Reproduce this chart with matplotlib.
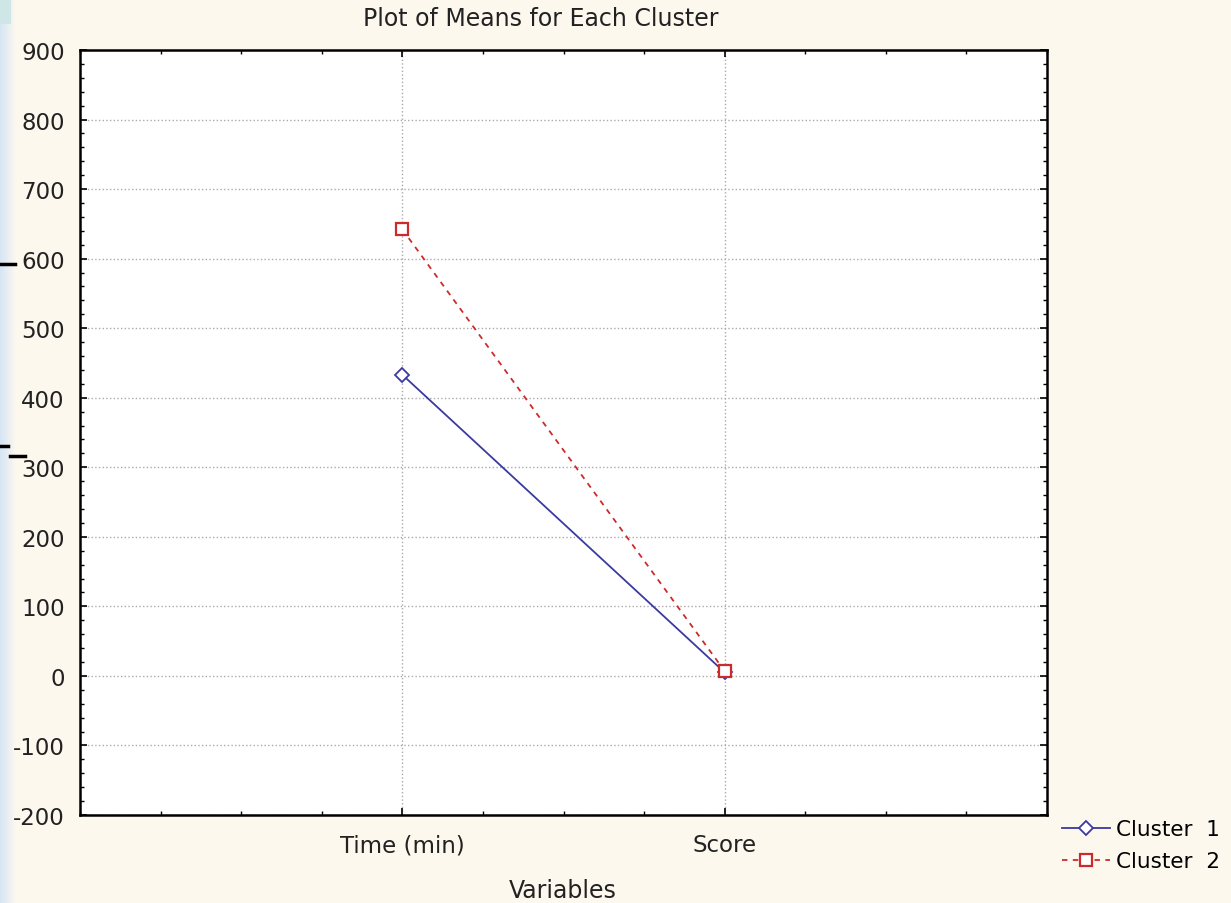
import numpy as np
import matplotlib.pyplot as plt
from matplotlib.ticker import MultipleLocator
from matplotlib.lines import Line2D
from matplotlib.colors import LinearSegmentedColormap

plt.rcParams['axes.unicode_minus'] = False
plt.rcParams['font.family'] = 'DejaVu Sans'

# data
variables = ['Time (min)', 'Score']
cluster1 = [433, 5]
cluster2 = [642, 7]
series_names = ['Cluster  1', 'Cluster  2']

W, H = 1231, 904
fig = plt.figure(figsize=(W / 100, H / 100), dpi=100)
fig.patch.set_facecolor('#fdf8ee')

# light blue strip on the left edge (slide background)
strip = fig.add_axes([0, 0, 16 / W, 1])
grad = np.linspace(0, 1, 50).reshape(1, -1)
strip.imshow(grad, aspect='auto', extent=[0, 1, 0, 1],
             cmap=LinearSegmentedColormap.from_list('b', ['#d6e5f5', '#fdf8ee']))
strip.axis('off')
corner = fig.add_axes([0, 1 - 25 / H, 11 / W, 25 / H])
corner.set_facecolor('#cfe6e6')
corner.set_xticks([])
corner.set_yticks([])
for s in corner.spines.values():
    s.set_visible(False)

# stray black dashes at left
for (x0, x1, y) in [(0, 15, 265), (0, 8, 447), (10, 25, 457)]:
    fig.add_artist(Line2D([x0 / W, x1 / W], [1 - y / H, 1 - y / H],
                          color='black', lw=2.5, transform=fig.transFigure))

ax = fig.add_axes([80 / W, 1 - 816 / H, (1047 - 80) / W, (816 - 51) / H])
ax.set_facecolor('white')

x = np.arange(1, len(variables) + 1)
ax.plot(x, cluster1, color='#3a3aa0', lw=1.3, marker='D', ms=7,
        mfc='white', mec='#3a3aa0', mew=1.3, label=series_names[0], zorder=3)
ax.plot(x, cluster2, color='#cc2b2b', lw=1.3, ls=(0, (3, 3)), marker='s', ms=9,
        mfc='white', mec='#cc2b2b', mew=1.6, label=series_names[1], zorder=4)

ax.set_xlim(0, 3)
ax.set_ylim(-200, 900)
ax.set_xticks(x)
ax.set_xticklabels(variables)
ax.xaxis.set_minor_locator(MultipleLocator(0.25))
ax.yaxis.set_major_locator(MultipleLocator(100))
ax.yaxis.set_minor_locator(MultipleLocator(20))
ax.tick_params(which='both', direction='in', top=True, right=True,
               color='black', labelsize=16.5, labelcolor='#222222')
ax.tick_params(which='major', length=5, width=1.2, pad=13)
ax.tick_params(axis='y', which='major', pad=11)
ax.tick_params(which='minor', length=3, width=1)
ax.grid(True, which='major', color='#aaaaaa', ls=':', lw=1)
for s in ax.spines.values():
    s.set_linewidth(1.8)

fig.text(541 / W, 1 - 19 / H, 'Plot of Means for Each Cluster', fontsize=17,
         color='#222222', ha='center', va='center')
fig.text(563 / W, 1 - 891 / H, 'Variables', fontsize=17,
         color='#222222', ha='center', va='center')

fig.legend(handles=ax.get_lines(), loc='upper left',
           bbox_to_anchor=(1058 / W, 1 - 816 / H), frameon=False,
           fontsize=15.5, handlelength=2.2, handletextpad=0.3, labelspacing=0.55,
           borderaxespad=0, borderpad=0.2)

fig.savefig('out.png', dpi=100, facecolor=fig.get_facecolor())
